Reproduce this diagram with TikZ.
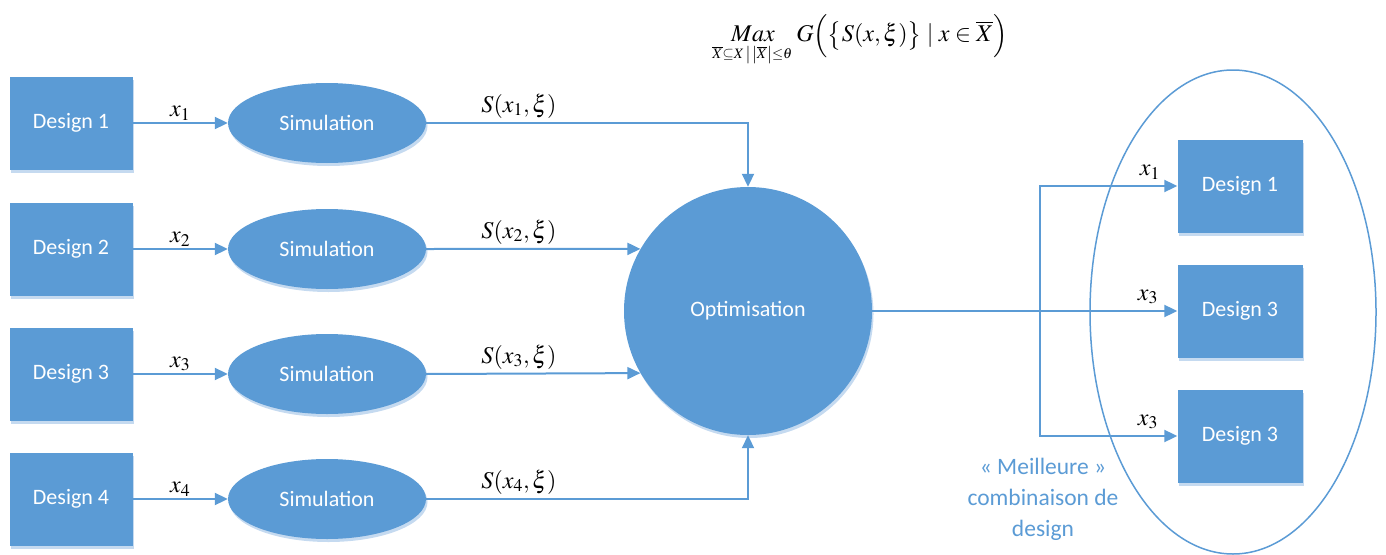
\documentclass[tikz,border=0pt]{standalone}
\usepackage{mathptmx}
\usepackage[no-math]{fontspec}
\setmainfont{Carlito}
\usetikzlibrary{shapes.geometric,arrows.meta,shadows,calc}
\definecolor{myblue}{HTML}{5B9BD5}
\definecolor{myshadow}{HTML}{C5DAF0}
\begin{document}
\begin{tikzpicture}[x=1pt,y=-1pt,
  shad/.style={drop shadow={shadow xshift=1.5pt,shadow yshift=-3pt,fill=myshadow,opacity=1}},
  designbox/.style={rectangle,fill=myblue,shad,minimum width=123pt,minimum height=93pt,inner sep=0pt,text=white,font=\fontsize{22}{26}\selectfont},
  simell/.style={ellipse,fill=myblue,shad,minimum width=198pt,minimum height=80pt,inner sep=0pt,text=white,font=\fontsize{22}{26}\selectfont},
  optcirc/.style={circle,fill=myblue,shad,minimum size=248pt,inner sep=0pt,text=white,font=\fontsize{22}{26}\selectfont},
  arr/.style={draw=myblue,line width=2pt,-{Triangle[length=13pt,width=12pt]}},
  lab/.style={font=\fontsize{24}{28}\selectfont,inner sep=2pt}
]
\useasboundingbox (0,0) rectangle (1386,554);

% formula
\node[font=\fontsize{24}{28}\selectfont] (formula) at (860,40)
 {$\mathop{Max}\limits_{\scriptscriptstyle\overline{X}\subseteq X\,\left|\,\left|\overline{X}\right|\le\theta\right.}
  G\Big(\big\{S(x,\xi)\big\}\mid x\in\overline{X}\Big)$};

% left designs
\node[designbox] (d1) at (71,123) {Design 1};
\node[designbox] (d2) at (71,249) {Design 2};
\node[designbox] (d3) at (71,374) {Design 3};
\node[designbox] (d4) at (71,499) {Design 4};

% simulations
\node[simell] (s1) at (327,123) {Simulation};
\node[simell] (s2) at (327,249) {Simulation};
\node[simell] (s3) at (327,374) {Simulation};
\node[simell] (s4) at (327,499) {Simulation};

% optimisation
\node[optcirc] (opt) at (748,311) {Optimisation};

% right big ellipse
\node[ellipse,draw=myblue,line width=1.5pt,minimum width=286pt,minimum height=484pt] (group) at (1233,312) {};

% right designs
\node[designbox,minimum width=125pt] (r1) at (1240,186) {Design 1};
\node[designbox,minimum width=125pt] (r2) at (1240,311) {Design 3};
\node[designbox,minimum width=125pt] (r3) at (1240,436) {Design 3};

% design -> simulation
\draw[arr] (d1) -- node[lab,above] {$x_1$} (s1);
\draw[arr] (d2) -- node[lab,above] {$x_2$} (s2);
\draw[arr] (d3) -- node[lab,above] {$x_3$} (s3);
\draw[arr] (d4) -- node[lab,above] {$x_4$} (s4);

% simulation -> optimisation
\draw[arr] (s1.east) -| (opt.north);
\node[lab] at (519,106) {$S(x_1,\xi)$};
\draw[arr] (s2.east) -- (opt.150);
\node[lab] at (519,232) {$S(x_2,\xi)$};
\draw[arr] (s3.east) -- (opt.210);
\node[lab] at (519,357) {$S(x_3,\xi)$};
\draw[arr] (s4.east) -| (opt.south);
\node[lab] at (519,482) {$S(x_4,\xi)$};

% optimisation -> right designs
\coordinate (br) at (1040,311);
\draw[arr] (opt.east) -- (r2.west);
\draw[arr] (br) |- (r1.west);
\draw[arr] (br) |- (r3.west);
\node[lab] at (1150,172) {$x_1$};
\node[lab] at (1148,297) {$x_3$};
\node[lab] at (1148,422) {$x_3$};

% caption
\node[text=myblue,align=center,font=\fontsize{23.5}{31}\selectfont] (cap) at (1043,499)
 {« Meilleure »\\combinaison de\\design};
\end{tikzpicture}
\end{document}
